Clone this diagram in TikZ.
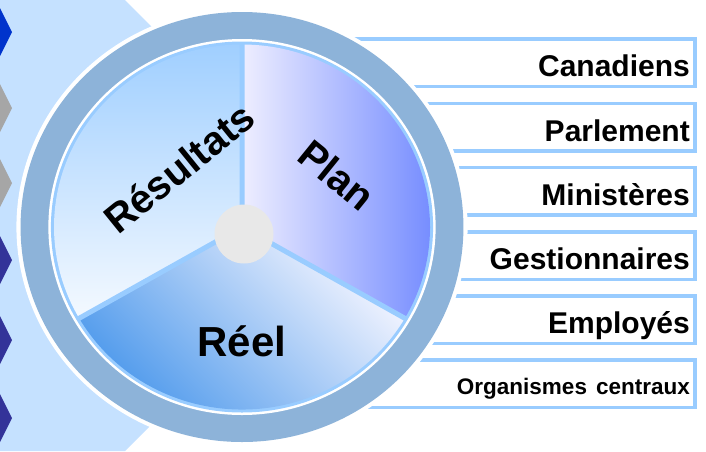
\documentclass[tikz,border=0pt]{standalone}
\usepackage{fontspec}
\setmainfont{Liberation Sans}
\definecolor{bgblue}{RGB}{197,225,255}
\definecolor{steel}{RGB}{141,179,217}
\definecolor{lblue}{RGB}{153,204,255}
\definecolor{chevblue}{RGB}{0,51,204}
\definecolor{chevgray}{RGB}{166,166,166}
\definecolor{chevind}{RGB}{51,51,153}
\definecolor{hubgray}{RGB}{232,232,232}
\definecolor{resTop}{RGB}{160,207,255}
\definecolor{resBot}{RGB}{244,249,255}
\definecolor{planL}{RGB}{238,238,255}
\definecolor{planR}{RGB}{102,128,255}
\definecolor{reelD}{RGB}{72,150,235}
\definecolor{reelL}{RGB}{244,245,255}
\begin{document}
\begin{tikzpicture}[x=1pt,y=-1pt,
  lab/.style={font=\fontsize{30}{36}\selectfont\bfseries, inner sep=0pt, anchor=base east},
  smalllab/.style={font=\fontsize{22.5}{27}\selectfont\bfseries, inner sep=0pt, anchor=base east},
  boxline/.style={draw=lblue, line width=3.5pt, fill=white},
  pielab/.style={font=\fontsize{40}{48}\selectfont\bfseries, inner sep=0pt},
  divider/.style={draw=lblue, line width=5pt}]
\useasboundingbox (0,0) rectangle (706,451);
\fill[white] (0,0) rectangle (706,451);
\fill[bgblue] (0,0) -- (125,0) -- (351,226) -- (125,451) -- (0,451) -- cycle;
\foreach \y/\c in {32/chevblue,108/chevgray,183/chevgray,260/chevind,340/chevind,418/chevind}
  \fill[\c] (0,\y-24) -- (12,\y) -- (0,\y+24) -- cycle;
\foreach \t in {39,103.3,167.5,231.8,296,360.2}
  \draw[boxline] (300,\t) rectangle (695,\t+47.5);
\coordinate (C) at (242,227);
\begin{scope}[shift={(242,227)}, x=1.03pt, y=1pt]
  \fill[white] (0,0) circle (219);
  \fill[steel] (0,0) circle (215);
  \fill[white] (0,0) circle (188);
  \fill[lblue] (0,0) circle (185.5);
  \shade[top color=resTop, bottom color=resBot] (0,0) -- (90:182.5) arc[start angle=90, end angle=210, radius=182.5] -- cycle;
  \shade[left color=planL, right color=planR] (0,0) -- (-30:182.5) arc[start angle=-30, end angle=90, radius=182.5] -- cycle;
  \shade[top color=reelL, bottom color=reelD, shading angle=-45] (0,0) -- (210:182.5) arc[start angle=210, end angle=330, radius=182.5] -- cycle;
  \draw[divider] (0,0) -- (90:183) (0,0) -- (210:183) (0,0) -- (330:183);
\end{scope}
\node[circle, fill=hubgray, minimum size=59pt, inner sep=0pt] (hub) at (244,234) {};
\node[pielab, rotate=39] (res) at (179,168) {Résultats};
\node[pielab, rotate=-39] (plan) at (337,175) {Plan};
\node[pielab, font=\fontsize{42}{50}\selectfont\bfseries, anchor=base] (reel) at (242,356) {Réel};
\node[lab] (can) at (690,76.75) {Canadiens};
\node[lab] (par) at (690,141) {Parlement};
\node[lab] (min) at (690,205.25) {Ministères};
\node[lab] (ges) at (690,269.5) {Gestionnaires};
\node[lab] (emp) at (690,333.75) {Employés};
\node[smalllab] (org) at (690,394) {Organismes\hspace{9pt}centraux};
\end{tikzpicture}
\end{document}
